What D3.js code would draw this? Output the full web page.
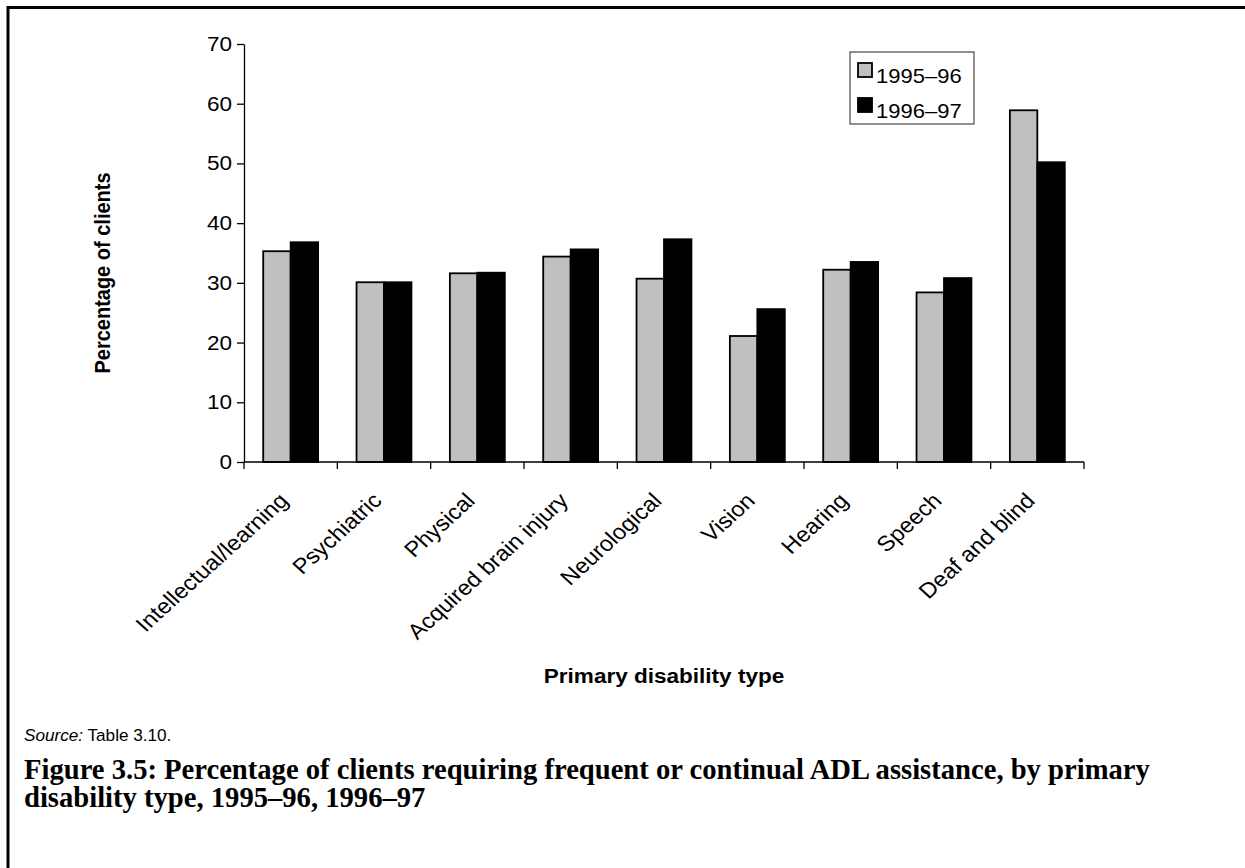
<!DOCTYPE html>
<html>
<head>
<meta charset="utf-8">
<script src="https://cdn.jsdelivr.net/npm/d3@7"></script>
<style>
  html, body { margin: 0; padding: 0; background: #fff; overflow: hidden; }
  svg { display: block; }
</style>
</head>
<body>
<svg id="chart" width="1245" height="868"></svg>
<script>
const categories = ["Intellectual/learning", "Psychiatric", "Physical", "Acquired brain injury",
  "Neurological", "Vision", "Hearing", "Speech", "Deaf and blind"];
const seriesNames = ["1995–96", "1996–97"];
const values1995 = [35.3, 30.1, 31.6, 34.4, 30.7, 21.1, 32.2, 28.4, 58.9];
const values1996 = [36.8, 30.1, 31.7, 35.6, 37.3, 25.6, 33.5, 30.8, 50.2];
const yTicks = [0, 10, 20, 30, 40, 50, 60, 70];
const colors = ["#c0c0c0", "#000000"];

const svg = d3.select("#chart");
const sans = "'Liberation Sans', Arial, sans-serif";
const serif = "'Liberation Serif', 'Times New Roman', serif";
const SX = 1.1;   // horizontal stretch of the original artwork
const FS = 20.5;

// outer frame (top and left)
svg.append("path")
  .attr("d", "M8,868 L8,7.5 L1245,7.5")
  .attr("fill", "none").attr("stroke", "#000").attr("stroke-width", 3);

const plot = { left: 244, right: 1084, top: 44, bottom: 462 };

const x0 = d3.scaleBand().domain(categories).range([plot.left, plot.right]).padding(0);
const x1 = d3.scaleBand().domain(seriesNames).range([0, x0.bandwidth()]).paddingInner(0).paddingOuter(0.7);
const y = d3.scaleLinear().domain([0, 70]).range([plot.bottom, plot.top]);

// bars
const data = categories.map((c, i) => ({ cat: c, vals: [values1995[i], values1996[i]] }));
const groups = svg.append("g").selectAll("g").data(data).join("g")
  .attr("transform", d => `translate(${x0(d.cat)},0)`);
groups.selectAll("rect").data(d => d.vals.map((v, j) => ({ s: seriesNames[j], v, j })))
  .join("rect")
  .attr("x", d => x1(d.s))
  .attr("y", d => y(d.v))
  .attr("width", x1.bandwidth())
  .attr("height", d => y(0) - y(d.v))
  .attr("fill", d => colors[d.j])
  .attr("stroke", "#000")
  .attr("stroke-width", 1.8);

// y axis
const yAxis = d3.axisLeft(y).tickValues(yTicks).tickSize(7).tickPadding(5).tickSizeOuter(0);
const gy = svg.append("g").attr("transform", `translate(${plot.left},0)`).call(yAxis);
gy.select(".domain").attr("stroke", "#000").attr("stroke-width", 1.3);
gy.selectAll(".tick line").attr("stroke", "#000").attr("stroke-width", 1.3);
gy.selectAll(".tick text")
  .attr("x", null)
  .attr("transform", `translate(-12,0) scale(${SX},1)`)
  .attr("font-family", sans).attr("font-size", 20.5).attr("fill", "#000");

// x axis line + ticks at band boundaries
const gx = svg.append("g");
gx.append("line")
  .attr("x1", plot.left).attr("x2", plot.right)
  .attr("y1", y(0)).attr("y2", y(0))
  .attr("stroke", "#000").attr("stroke-width", 1.3);
const boundaries = categories.map(c => x0(c)).concat([x0(categories[categories.length - 1]) + x0.bandwidth()]);
gx.selectAll("line.tk").data(boundaries).join("line").attr("class", "tk")
  .attr("x1", d => d).attr("x2", d => d)
  .attr("y1", y(0)).attr("y2", y(0) + 7)
  .attr("stroke", "#000").attr("stroke-width", 1.3);

// category labels rotated
gx.selectAll("text.cat").data(categories).join("text").attr("class", "cat")
  .attr("transform", d => `translate(${x0(d) + x0.bandwidth() / 2 - 1},${y(0) + 40}) scale(${SX},1) rotate(-45)`)
  .attr("text-anchor", "end")
  .attr("font-family", sans).attr("font-size", 21.5).attr("fill", "#000")
  .text(d => d);

// axis titles
svg.append("text")
  .attr("transform", `translate(102,273) scale(${SX},1) rotate(-90)`)
  .attr("text-anchor", "middle").attr("dominant-baseline", "central")
  .attr("font-family", sans).attr("font-weight", "bold").attr("font-size", 20)
  .text("Percentage of clients");

svg.append("text")
  .attr("transform", `translate(${(plot.left + plot.right) / 2},683) scale(${SX},1)`)
  .attr("text-anchor", "middle")
  .attr("font-family", sans).attr("font-weight", "bold").attr("font-size", FS)
  .text("Primary disability type");

// legend
const legend = svg.append("g").attr("transform", "translate(850,52)");
legend.append("rect").attr("width", 124).attr("height", 72)
  .attr("fill", "#fff").attr("stroke", "#222").attr("stroke-width", 1);
seriesNames.forEach((s, i) => {
  legend.append("rect").attr("x", 8).attr("y", 11 + i * 35).attr("width", 14).attr("height", 14)
    .attr("fill", colors[i]).attr("stroke", "#000").attr("stroke-width", 1.8);
  legend.append("text").attr("transform", `translate(26,${31 + i * 35}) scale(${SX},1)`)
    .attr("font-family", sans).attr("font-size", 20).attr("fill", "#000").text(s);
});

// source
const src = svg.append("text").attr("transform", `translate(24,741) scale(${SX},1)`)
  .attr("font-family", sans).attr("font-size", 15.6).attr("fill", "#000");
src.append("tspan").attr("font-style", "italic").text("Source:");
src.append("tspan").text(" Table 3.10.");

// caption
const cap1 = svg.append("text").attr("x", 24).attr("y", 779)
  .attr("font-family", serif).attr("font-weight", "bold").attr("font-size", 21).attr("fill", "#000")
  .text("Figure 3.5: Percentage of clients requiring frequent or continual ADL assistance, by primary");
const cap2 = svg.append("text").attr("x", 24).attr("y", 807)
  .attr("font-family", serif).attr("font-weight", "bold").attr("font-size", 21).attr("fill", "#000")
  .text("disability type, 1995–96, 1996–97");
// fit caption widths to the reference
const w1 = cap1.node().getComputedTextLength();
const fs = 21 * 1126 / w1;
cap1.attr("font-size", fs);
cap2.attr("font-size", fs);
</script>
</body>
</html>
